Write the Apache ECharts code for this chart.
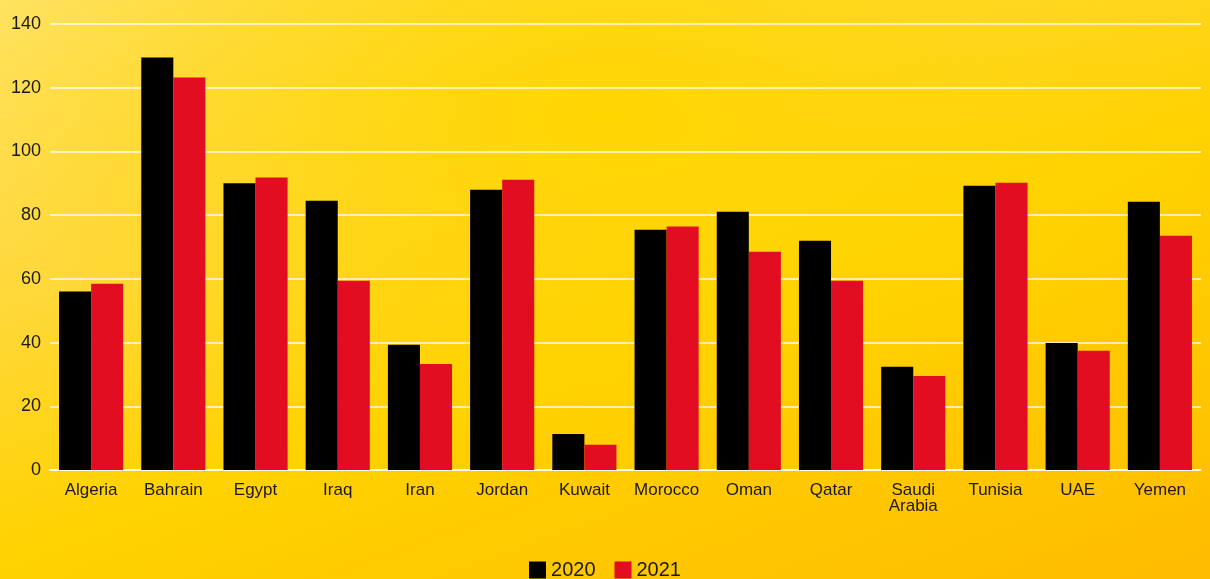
<!DOCTYPE html>
<html>
<head>
<meta charset="utf-8">
<script src="https://cdn.jsdelivr.net/npm/echarts@6/dist/echarts.min.js"></script>
<style>
html,body{margin:0;padding:0;width:1210px;height:579px;overflow:hidden;}
body{background:
 radial-gradient(ellipse 900px 500px at 50% 20%, rgba(255,214,0,1) 0%, rgba(255,214,0,0) 70%),
 linear-gradient(160deg,#ffe260 0%,#ffd83a 30%,#ffd200 55%,#ffc400 85%,#ffbb00 100%);}
#c{width:1210px;height:579px;}
</style>
</head>
<body>
<div id="c"></div>
<script>
const categories = ["Algeria","Bahrain","Egypt","Iraq","Iran","Jordan","Kuwait","Morocco","Oman","Qatar","Saudi\nArabia","Tunisia","UAE","Yemen"];
const values2020 = [56, 129.5, 90, 84.5, 39.3, 88, 11.3, 75.4, 81.1, 72, 32.4, 89.2, 39.9, 84.2];
const values2021 = [58.5, 123.2, 91.8, 59.4, 33.3, 91.1, 7.9, 76.4, 68.5, 59.4, 29.5, 90.2, 37.4, 73.5];
const seriesNames = ["2020","2021"];
const yTicks = {min:0, max:140, interval:20};

const chart = echarts.init(document.getElementById('c'), null, {renderer:'canvas'});
chart.setOption({
  backgroundColor:'transparent',
  animation:false,
  textStyle:{fontFamily:'"Liberation Sans", Arial, sans-serif'},
  grid:{left:50,right:9,top:24,bottom:109,containLabel:false},
  legend:{
    data:seriesNames,
    bottom:-6,
    left:'center',
    itemWidth:17,itemHeight:17,itemGap:19,
    icon:'rect',
    textStyle:{fontSize:20,color:'#1a1a1a'}
  },
  xAxis:{
    type:'category',
    data:categories,
    axisLine:{show:true,lineStyle:{color:'#ffffff',width:1.5}},
    axisTick:{show:false},
    axisLabel:{fontSize:17,color:'#1a1a1a',margin:12,lineHeight:16,interval:0}
  },
  yAxis:{
    type:'value',
    min:yTicks.min,max:yTicks.max,interval:yTicks.interval,
    axisLine:{show:false},
    axisTick:{show:false},
    axisLabel:{fontSize:18,color:'#1a1a1a',margin:9},
    splitLine:{show:true,lineStyle:{color:'#ffffff',width:1.5,opacity:0.9}}
  },
  series:[
    {name:seriesNames[0],type:'bar',data:values2020,itemStyle:{color:'#000000'},barGap:'0%',barCategoryGap:'22%'},
    {name:seriesNames[1],type:'bar',data:values2021,itemStyle:{color:'#e30d22'},barGap:'0%',barCategoryGap:'22%'}
  ]
});
</script>
</body>
</html>
